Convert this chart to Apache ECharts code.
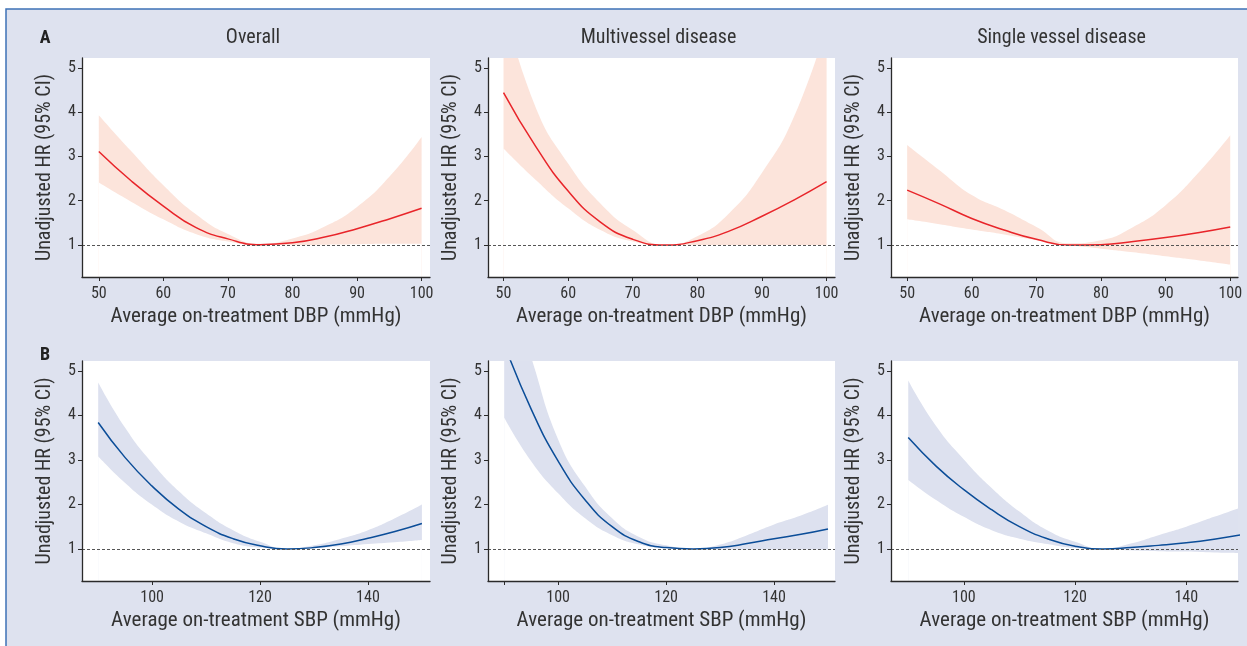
<!DOCTYPE html>
<html>
<head>
<meta charset="utf-8">
<script src="https://cdn.jsdelivr.net/npm/echarts@6/dist/echarts.min.js"></script>
<style>
html,body{margin:0;padding:0;background:#fff;}
#main{width:1247px;height:646px;}
</style>
</head>
<body>
<div id="main"></div>
<script>
// ---- data ----
const dbpX = [50, 55, 60, 65, 70, 75, 80, 85, 90, 95, 100];
const sbpX = [90, 95, 100, 105, 110, 115, 120, 125, 130, 135, 140, 145, 150];

const dbpTicks = [50, 60, 70, 80, 90, 100];
const sbpTicks = [100, 120, 140];
const sbpTicksMulti = [90, 100, 120, 140];
const yTicks = [1, 2, 3, 4, 5];

const panelTitles = ['Overall', 'Multivessel disease', 'Single vessel disease'];
const rowLetters = ['A', 'B'];
const yName = 'Unadjusted HR (95% CI)';
const dbpName = 'Average on-treatment DBP (mmHg)';
const sbpName = 'Average on-treatment SBP (mmHg)';

// A: DBP
const dbpOverallHR    = [3.11, 2.45, 1.88, 1.40, 1.14, 1.01, 1.05, 1.18, 1.37, 1.59, 1.83];
const dbpOverallUpper = [3.93, 3.12, 2.35, 1.70, 1.25, 1.03, 1.15, 1.42, 1.86, 2.54, 3.44];
const dbpOverallLower = [2.41, 1.98, 1.58, 1.25, 1.08, 1.00, 1.00, 1.01, 1.02, 1.03, 1.03];

const dbpMultiHR    = [4.44, 3.22, 2.22, 1.52, 1.13, 1.00, 1.10, 1.32, 1.65, 2.02, 2.43];
const dbpMultiUpper = [6.40, 4.10, 2.84, 1.94, 1.34, 1.00, 1.20, 1.73, 2.63, 3.91, 5.95];
const dbpMultiLower = [3.18, 2.47, 1.83, 1.34, 1.08, 1.00, 1.00, 1.00, 1.00, 1.00, 1.00];

const dbpSingleHR    = [2.24, 1.93, 1.60, 1.34, 1.13, 1.00, 1.01, 1.08, 1.17, 1.28, 1.41];
const dbpSingleUpper = [3.26, 2.69, 2.13, 1.79, 1.41, 1.04, 1.11, 1.41, 1.90, 2.62, 3.48];
const dbpSingleLower = [1.58, 1.47, 1.35, 1.24, 1.11, 1.00, 0.92, 0.84, 0.75, 0.66, 0.56];

// B: SBP
const sbpOverallHR    = [3.84, 3.05, 2.41, 1.89, 1.50, 1.23, 1.07, 1.00, 1.03, 1.11, 1.24, 1.39, 1.57];
const sbpOverallUpper = [4.74, 3.72, 2.93, 2.29, 1.80, 1.42, 1.16, 1.00, 1.08, 1.23, 1.42, 1.69, 2.00];
const sbpOverallLower = [3.08, 2.48, 1.99, 1.61, 1.35, 1.13, 1.03, 1.00, 1.02, 1.06, 1.11, 1.15, 1.20];

const sbpMultiHR    = [5.60, 4.14, 2.97, 2.10, 1.50, 1.16, 1.03, 1.00, 1.03, 1.12, 1.23, 1.33, 1.45];
const sbpMultiUpper = [7.20, 5.30, 3.46, 2.40, 1.69, 1.27, 1.08, 1.00, 1.10, 1.31, 1.55, 1.75, 1.99];
const sbpMultiLower = [3.95, 2.97, 2.25, 1.69, 1.31, 1.10, 1.02, 1.00, 0.99, 0.99, 0.99, 0.99, 0.99];

const sbpSingleHR    = [3.50, 2.86, 2.33, 1.88, 1.50, 1.23, 1.06, 1.00, 1.03, 1.08, 1.14, 1.22, 1.32];
const sbpSingleUpper = [4.78, 3.76, 3.01, 2.37, 1.84, 1.42, 1.16, 1.00, 1.12, 1.31, 1.50, 1.72, 1.94];
const sbpSingleLower = [2.55, 2.10, 1.72, 1.42, 1.23, 1.11, 1.02, 1.00, 0.97, 0.95, 0.94, 0.92, 0.91];

// ---- layout / style ----
const FONT = "'Liberation Sans Narrow','Roboto Condensed','DejaVu Sans Condensed',sans-serif";
const RED = '#e8252a', RED_BAND = '#fce4db';
const BLUE = '#0b4d98', BLUE_BAND = '#dde1ef';
const AXIS = '#2a2a2a', TXT = '#333333';

const colsLeft = [82, 488, 891];
const colsWidth = [348, 347, 347];
const rowsTop = [58, 361];
const rowsHeight = [219, 220];

const panels = [
  {row:0, col:0, xs:dbpX, hr:dbpOverallHR, up:dbpOverallUpper, lo:dbpOverallLower, xmin:47.4, xmax:101.3, ticks:dbpTicks, labels:dbpTicks, name:dbpName, c:RED, b:RED_BAND},
  {row:0, col:1, xs:dbpX, hr:dbpMultiHR, up:dbpMultiUpper, lo:dbpMultiLower, xmin:47.6, xmax:101.3, ticks:dbpTicks, labels:dbpTicks, name:dbpName, c:RED, b:RED_BAND},
  {row:0, col:2, xs:dbpX, hr:dbpSingleHR, up:dbpSingleUpper, lo:dbpSingleLower, xmin:47.5, xmax:101.2, ticks:dbpTicks, labels:dbpTicks, name:dbpName, c:RED, b:RED_BAND},
  {row:1, col:0, xs:sbpX, hr:sbpOverallHR, up:sbpOverallUpper, lo:sbpOverallLower, xmin:87.0, xmax:151.5, ticks:sbpTicks, labels:sbpTicks, name:sbpName, c:BLUE, b:BLUE_BAND},
  {row:1, col:1, xs:sbpX, hr:sbpMultiHR, up:sbpMultiUpper, lo:sbpMultiLower, xmin:87.0, xmax:151.3, ticks:sbpTicksMulti, labels:sbpTicks, name:sbpName, c:BLUE, b:BLUE_BAND},
  {row:1, col:2, xs:sbpX, hr:sbpSingleHR, up:sbpSingleUpper, lo:sbpSingleLower, xmin:86.9, xmax:149.3, ticks:sbpTicks, labels:sbpTicks, name:sbpName, c:BLUE, b:BLUE_BAND}
];

const SMOOTH = 0.5;
const grid = [], xAxis = [], yAxis = [], series = [];
panels.forEach((p, i) => {
  grid.push({left: colsLeft[p.col], top: rowsTop[p.row], width: colsWidth[p.col], height: rowsHeight[p.row],
    show: true, backgroundColor: '#ffffff', borderWidth: 0, containLabel: false});
  xAxis.push({
    gridIndex: i, type: 'value', min: p.xmin, max: p.xmax, z: 10,
    axisLine: {show: true, onZero: false, lineStyle: {color: AXIS, width: 1.3}},
    axisTick: {show: true, length: 4, customValues: p.ticks, lineStyle: {color: AXIS, width: 1}},
    axisLabel: {customValues: p.labels, color: TXT, fontSize: 16, fontFamily: FONT, margin: 9},
    splitLine: {show: false},
    name: p.name, nameLocation: 'middle', nameGap: 29,
    nameTextStyle: {color: TXT, fontSize: 21, fontFamily: FONT}
  });
  yAxis.push({
    gridIndex: i, type: 'value', min: 0.28, max: 5.22, z: 10,
    axisLine: {show: true, onZero: false, lineStyle: {color: AXIS, width: 1.3}},
    axisTick: {show: true, length: 4, customValues: yTicks, lineStyle: {color: AXIS, width: 1}},
    axisLabel: {customValues: yTicks, color: TXT, fontSize: 16, fontFamily: FONT, margin: 6},
    splitLine: {show: false},
    name: yName, nameLocation: 'middle', nameGap: 27,
    nameTextStyle: {color: TXT, fontSize: 20, fontFamily: FONT}
  });
  // upper CI filled down to the axis
  series.push({
    type: 'line', xAxisIndex: i, yAxisIndex: i, z: 1, silent: true,
    data: p.xs.map((x, k) => [x, p.up[k]]), smooth: SMOOTH, symbol: 'none',
    lineStyle: {width: 0, opacity: 0},
    areaStyle: {color: p.b, opacity: 1, origin: 'start'}
  });
  // lower CI: plot background below it
  series.push({
    type: 'line', xAxisIndex: i, yAxisIndex: i, z: 2, silent: true,
    data: p.xs.map((x, k) => [x, p.lo[k]]), smooth: SMOOTH, symbol: 'none',
    lineStyle: {width: 0, opacity: 0},
    areaStyle: {color: '#ffffff', opacity: 1, origin: 'start'}
  });
  // HR curve
  series.push({
    type: 'line', xAxisIndex: i, yAxisIndex: i, z: 3, silent: true,
    data: p.xs.map((x, k) => [x, p.hr[k]]), smooth: SMOOTH, symbol: 'none',
    lineStyle: {color: p.c, width: 1.5},
    markLine: {silent: true, symbol: 'none', label: {show: false},
      lineStyle: {type: [3, 2], color: '#555555', width: 1},
      data: [{yAxis: 1}]}
  });
});

const graphic = [
  {type: 'rect', z: -10, silent: true, shape: {x: 6, y: 9, width: 1260, height: 660},
   style: {fill: '#dee2ef', stroke: '#3e72b6', lineWidth: 1.5}}
];
panelTitles.forEach((t, c) => {
  graphic.push({type: 'text', x: colsLeft[c] + colsWidth[c] / 2 - 3, y: 38, silent: true,
    style: {text: t, fill: TXT, font: '20px ' + FONT, textAlign: 'center', textVerticalAlign: 'middle'}});
});
rowLetters.forEach((t, r) => {
  graphic.push({type: 'text', x: 45, y: r === 0 ? 38 : 355, silent: true,
    style: {text: t, fill: '#222', font: 'bold 18px ' + FONT, textAlign: 'center', textVerticalAlign: 'middle'}});
});

const chart = echarts.init(document.getElementById('main'), null, {renderer: 'canvas'});
chart.setOption({
  backgroundColor: '#ffffff',
  animation: false,
  textStyle: {fontFamily: FONT},
  grid, xAxis, yAxis, series, graphic
});
</script>
</body>
</html>
